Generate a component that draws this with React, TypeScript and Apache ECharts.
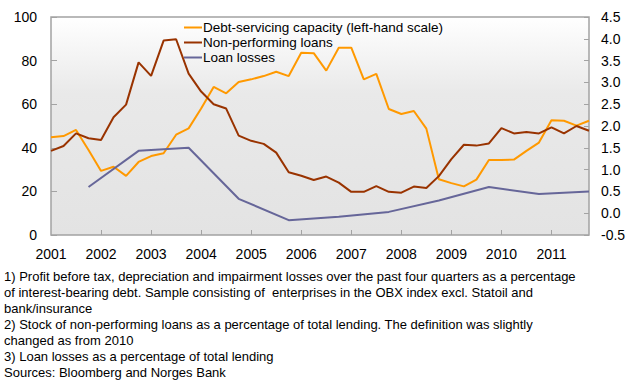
import React, { useEffect, useRef } from "react";
import * as echarts from "echarts";

const years = [2001, 2002, 2003, 2004, 2005, 2006, 2007, 2008, 2009, 2010, 2011];
const quarters = years.flatMap((y) => [1, 2, 3, 4].map((q) => `${y} Q${q}`));

const debtServicing = [
  44.8, 45.4, 48.2, 39, 29.4, 31.3, 27.1, 33.5, 36.2, 37.5, 46, 48.9,
  58, 67.9, 65, 70.2, 71.4, 72.9, 74.9, 72.9, 83.6, 83.4, 75.4, 85.9,
  85.9, 71.4, 73.9, 57.8, 55.5, 56.9, 48.8, 25.6, 23.8, 22.3, 25.4, 34.4,
  34.4, 34.6, 38.6, 42.4, 52.6, 52.4, 50.2, 52.4,
];

const nonPerforming = [
  1.43, 1.54, 1.83, 1.72, 1.68, 2.2, 2.49, 3.46, 3.15, 3.96, 3.99, 3.2,
  2.79, 2.5, 2.4, 1.78, 1.66, 1.59, 1.39, 0.94, 0.86, 0.76, 0.84, 0.7,
  0.49, 0.49, 0.62, 0.49, 0.47, 0.61, 0.58, 0.85, 1.24, 1.57, 1.55, 1.6,
  1.95, 1.83, 1.86, 1.83, 1.97, 1.83, 2.0, 1.89,
];

// Annual values, observed in Q4 of each year 2001-2011
const loanLossesAnnual = [0.6, 1.43, 1.5, 0.33, -0.16, -0.08, 0.03, 0.29, 0.6, 0.44, 0.5];

const seriesNames = [
  "Debt-servicing capacity (left-hand scale)",
  "Non-performing loans",
  "Loan losses",
];

const footnotes = [
  "1) Profit before tax, depreciation and impairment losses over the past four quarters as a percentage",
  "of interest-bearing debt. Sample consisting of  enterprises in the OBX index excl. Statoil and",
  "bank/insurance",
  "2) Stock of non-performing loans as a percentage of total lending. The definition was slightly",
  "changed as from 2010",
  "3) Loan losses as a percentage of total lending",
  "Sources: Bloomberg and Norges Bank",
];

const FONT = "'Liberation Sans', Arial, sans-serif";

export default function App() {
  const ref = useRef<HTMLDivElement>(null);

  useEffect(() => {
    if (!ref.current) return;
    const chart = echarts.init(ref.current, undefined, { renderer: "svg" });

    const loanLosses = quarters.map((q, i) =>
      i % 4 === 3 ? loanLossesAnnual[(i - 3) / 4] : null
    );

    chart.setOption({
      animation: false,
      textStyle: { fontFamily: FONT },
      grid: {
        left: 51,
        right: 40,
        top: 17,
        bottom: 145,
        show: true,
        borderColor: "#a3a3a3",
        borderWidth: 1.5,
        backgroundColor: {
          type: "linear",
          x: 0,
          y: 0,
          x2: 0,
          y2: 1,
          colorStops: [
            { offset: 0, color: "#ffffff" },
            { offset: 0.35, color: "#e9e9e9" },
            { offset: 1, color: "#e3e3e3" },
          ],
        },
      },
      legend: {
        orient: "vertical",
        left: 184,
        top: 20,
        padding: 0,
        icon: "rect",
        itemWidth: 18,
        itemHeight: 2,
        itemGap: 0,
        textStyle: {
          fontFamily: FONT,
          fontSize: 13.5,
          lineHeight: 15,
          color: "#000",
          padding: [0, 0, 0, -4],
        },
        data: seriesNames,
      },
      xAxis: {
        type: "category",
        data: quarters,
        boundaryGap: false,
        axisLine: { show: false },
        axisTick: {
          inside: true,
          length: 5,
          interval: (i: number) => i % 4 === 0 && i !== 0,
          lineStyle: { color: "#a3a3a3", width: 1 },
        },
        axisLabel: {
          interval: (i: number) => i % 4 === 0,
          formatter: (v: string) => v.slice(0, 4),
          color: "#000",
          fontSize: 14,
          fontFamily: FONT,
          margin: 12,
        },
        splitLine: { show: false },
      },
      yAxis: [
        {
          type: "value",
          min: 0,
          max: 100,
          interval: 20,
          axisLine: { show: false },
          axisTick: { show: true, inside: true, length: 6, lineStyle: { color: "#a3a3a3" } },
          axisLabel: { color: "#000", fontSize: 14, fontFamily: FONT, margin: 14 },
          splitLine: { show: false },
        },
        {
          type: "value",
          min: -0.5,
          max: 4.5,
          interval: 0.5,
          position: "right",
          axisLine: { show: false },
          axisTick: { show: true, inside: true, length: 5, lineStyle: { color: "#a3a3a3" } },
          axisLabel: {
            color: "#000",
            fontSize: 14,
            fontFamily: FONT,
            margin: 12,
            formatter: (v: number) => v.toFixed(1),
          },
          splitLine: { show: false },
        },
      ],
      series: [
        {
          name: seriesNames[0],
          type: "line",
          yAxisIndex: 0,
          data: debtServicing,
          symbol: "none",
          lineStyle: { color: "#ff9900", width: 2 },
          itemStyle: { color: "#ff9900" },
        },
        {
          name: seriesNames[1],
          type: "line",
          yAxisIndex: 1,
          data: nonPerforming,
          symbol: "none",
          lineStyle: { color: "#993300", width: 2 },
          itemStyle: { color: "#993300" },
        },
        {
          name: seriesNames[2],
          type: "line",
          yAxisIndex: 1,
          data: loanLosses,
          connectNulls: true,
          symbol: "none",
          lineStyle: { color: "#666699", width: 2 },
          itemStyle: { color: "#666699" },
        },
      ],
      graphic: [
        {
          type: "text",
          left: 4,
          top: 268,
          style: {
            text: footnotes.join("\n"),
            font: `13px ${FONT}`,
            lineHeight: 16,
            fill: "#000",
          },
        },
      ],
    });

    return () => chart.dispose();
  }, []);

  return <div ref={ref} style={{ width: 629, height: 380, position: "absolute", left: 0, top: 0 }} />;
}
